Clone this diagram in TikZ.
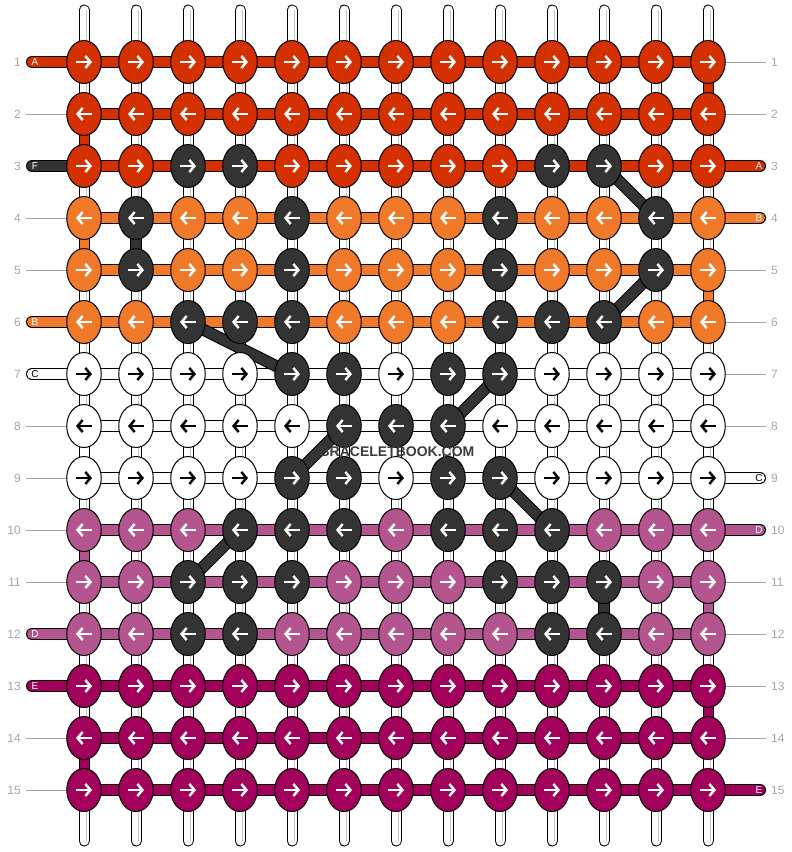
\documentclass[tikz,border=0pt]{standalone}
\usepackage{fontspec}
\setmainfont{Liberation Sans}
\usetikzlibrary{shapes.geometric,arrows.meta}
\definecolor{ared}{HTML}{D43000}
\definecolor{borange}{HTML}{F07A2A}
\definecolor{dpink}{HTML}{B5558F}
\definecolor{emagenta}{HTML}{A1005B}
\definecolor{fdark}{HTML}{333333}
\definecolor{numgray}{HTML}{A6A6A6}
\definecolor{warpline}{HTML}{C8C8C8}
\def\rowdata{1/ared/white/{0}, 2/ared/white/{0}, 3/ared/white/{3,4,10,11},
  4/borange/white/{2,5,9,12}, 5/borange/white/{2,5,9,12}, 6/borange/white/{3,4,5,9,10,11},
  7/white/black/{5,6,8,9}, 8/white/black/{6,7,8}, 9/white/black/{5,6,8,9},
  10/dpink/white/{4,5,6,8,9,10}, 11/dpink/white/{3,4,5,9,10,11}, 12/dpink/white/{3,4,10,11},
  13/emagenta/white/{0}, 14/emagenta/white/{0}, 15/emagenta/white/{0}}
\begin{document}
\begin{tikzpicture}[x=1pt,y=-1pt,
    knot/.style={ellipse,draw=black,line width=1pt,minimum width=34.5pt,minimum height=43pt,inner sep=0pt},
    strand/.style={draw=black,line width=1pt,double=#1,double distance=10pt,line cap=round},
    link/.style={draw=black,line width=1pt,double=#1,double distance=9pt},
    arrw/.style={line width=2.5pt,-{Straight Barb[length=5pt,width=12pt]}},
    rownum/.style={text=numgray,font=\fontsize{12}{14}\selectfont,inner sep=0pt},
    tag/.style={font=\fontsize{10}{12}\selectfont,inner sep=0pt},
    guide/.style={numgray,line width=0.8pt}]
\useasboundingbox (0,0) rectangle (792,852);

\foreach \r in {1,...,15}
  \foreach \c in {1,...,13}
    \coordinate (p\r-\c) at (32+52*\c,10+52*\r);

\foreach \c in {1,...,13} {
  \coordinate (top\c) at (32+52*\c,10);
  \coordinate (bot\c) at (32+52*\c,841);
  \draw[strand=white,double distance=9pt] (top\c) -- (bot\c);
  \draw[warpline,line width=1pt] ([xshift=2pt]top\c) -- ([xshift=2pt]bot\c);
}

\foreach \a/\b/\c/\col in {1/2/13/ared, 2/3/1/ared, 4/5/1/borange, 5/6/13/borange,
    7/8/13/white, 8/9/1/white, 10/11/1/dpink, 11/12/13/dpink, 13/14/13/emagenta, 14/15/1/emagenta}
  \draw[link=\col] (p\a-\c) -- (p\b-\c);

\foreach \r/\rc/\ac/\dk in \rowdata
  \draw[strand=\rc] (p\r-1) -- (p\r-13);

\foreach \r/\col/\txt/\t in {1/ared/white/A, 3/fdark/white/F, 6/borange/white/B,
    7/white/black/C, 12/dpink/white/D, 13/emagenta/white/E} {
  \coordinate (l\r) at (32,10+52*\r);
  \draw[strand=\col] (l\r) -- (p\r-1);
  \node[tag,text=\txt] (lt\r) at ([xshift=3pt]l\r) {\t};
}
\foreach \r/\col/\txt/\t in {3/ared/white/A, 4/borange/white/B, 9/white/black/C,
    10/dpink/white/D, 15/emagenta/white/E} {
  \coordinate (rr\r) at (760,10+52*\r);
  \draw[strand=\col] (p\r-13) -- (rr\r);
  \node[tag,text=\txt] (rt\r) at ([xshift=-1pt]rr\r) {\t};
}

\foreach \r in {2,4,5,8,9,10,11,14,15} {
  \coordinate (gl\r) at (26,10+52*\r);
  \draw[guide] (gl\r) -- (p\r-1);
}
\foreach \r in {1,2,5,6,7,8,11,12,13,14} {
  \coordinate (gr\r) at (766,10+52*\r);
  \draw[guide] (p\r-13) -- (gr\r);
}
\foreach \r in {1,...,15} {
  \node[rownum,anchor=east] (nl\r) at (21,10+52*\r) {\r};
  \node[rownum,anchor=west] (nr\r) at (771,10+52*\r) {\r};
}

\foreach \a/\b in {4-2/5-2, 3-11/4-12, 5-12/6-11, 6-3/7-5, 7-9/8-8,
    8-6/9-5, 9-9/10-10, 10-4/11-3, 11-11/12-11}
  \draw[strand=fdark] (p\a) -- (p\b);

\foreach \r/\rc/\ac/\dk in \rowdata {
  \foreach \c in {1,...,13} {
    \xdef\kfill{\rc}\xdef\karrow{\ac}
    \foreach \d in \dk {\ifnum\d=\c\relax \xdef\kfill{fdark}\xdef\karrow{white}\fi}
    \node[knot,fill=\kfill] (k\r-\c) at (p\r-\c) {};
    \ifodd\r\relax
      \draw[arrw,\karrow] ([xshift=-8pt]k\r-\c.center) -- ([xshift=8pt]k\r-\c.center);
    \else
      \draw[arrw,\karrow] ([xshift=8pt]k\r-\c.center) -- ([xshift=-8pt]k\r-\c.center);
    \fi
  }
}

\node[font=\bfseries\fontsize{14}{16}\selectfont,text=fdark!90!gray] (mark) at (397,452) {BRACELETBOOK.COM};
\end{tikzpicture}
\end{document}
